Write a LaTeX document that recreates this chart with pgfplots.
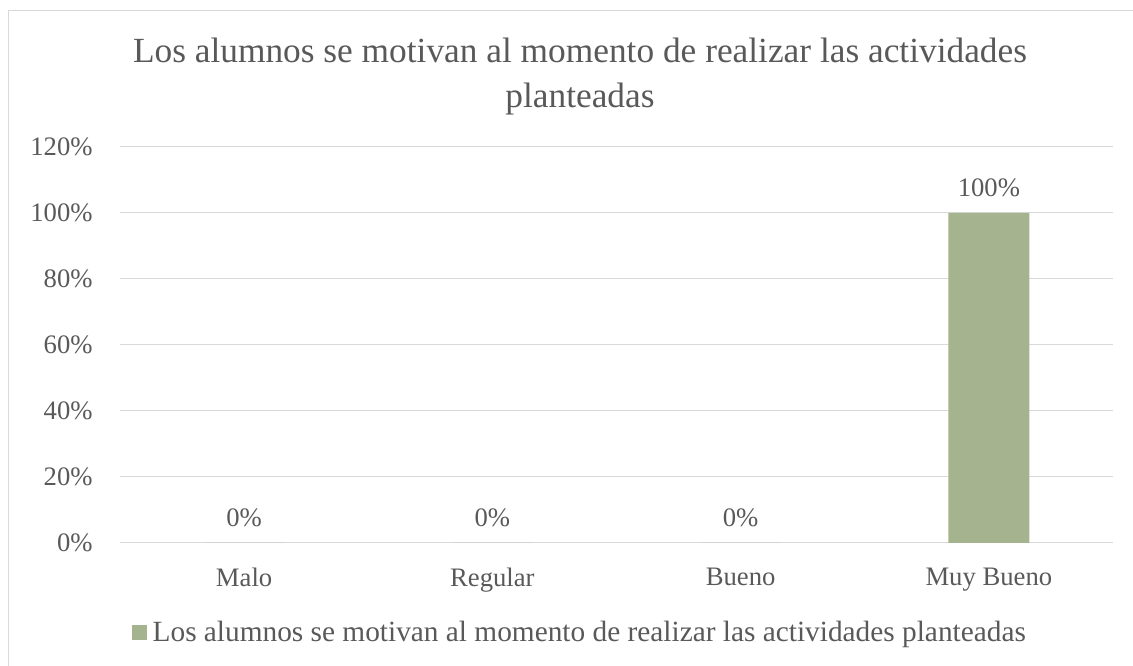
\documentclass[border=0pt]{standalone}
\usepackage{fontspec}
\setmainfont{Liberation Serif}
\usepackage{pgfplots}
\pgfplotsset{compat=1.18}

\definecolor{bargreen}{HTML}{A5B38F}
\definecolor{txtgray}{HTML}{595959}
\definecolor{gridgray}{HTML}{D9D9D9}

\begin{document}
\begin{tikzpicture}
% page frame: 1133 x 666 px at 0.75pt per px
\useasboundingbox (0,0) rectangle (849.75pt,499.5pt);
\draw[gridgray, line width=0.75pt] (6pt,0) -- (6pt,491.25pt) -- (849.75pt,491.25pt);

\node[anchor=base, text=txtgray, font=\fontsize{26.5}{33.75}\selectfont] at (435pt,452.25pt)
  {Los alumnos se motivan al momento de realizar las actividades};
\node[anchor=base, text=txtgray, font=\fontsize{26.5}{33.75}\selectfont] at (435pt,418.5pt)
  {planteadas};

\begin{axis}[
  at={(90pt,92.25pt)}, anchor=south west,
  scale only axis,
  width=744.75pt, height=297pt,
  xmin=-0.5, xmax=3.5,
  ymin=0, ymax=120,
  xtick=data,
  xticklabels={Malo, Regular, Bueno, Muy Bueno},
  ytick={0,20,...,120},
  yticklabel={\pgfmathprintnumber{\tick}\%},
  /pgf/number format/assume math mode=true,
  ymajorgrids,
  grid style={gridgray, line width=0.75pt},
  axis line style={draw=none},
  tick style={draw=none},
  ticklabel style={text=txtgray, font=\fontsize{20}{24}\selectfont},
  yticklabel style={xshift=-17pt},
  xticklabel style={yshift=-11pt},
  ybar, bar width=60.75pt,
  nodes near coords={\pgfmathprintnumber{\pgfplotspointmeta}\%},
  every node near coord/.append style={text=txtgray, font=\fontsize{20}{24}\selectfont, anchor=center, yshift=18.75pt},
  legend style={draw=none, fill=none, at={(rel axis cs:0.462,-0.225)}, anchor=center,
    font=\fontsize{22}{26}\selectfont, text=txtgray, inner sep=0pt,
    nodes={inner sep=0pt},
    /tikz/every odd column/.append style={column sep=4.5pt}},
  legend image code/.code={\fill[bargreen] (0pt,-5.6pt) rectangle (11.25pt,5.6pt);},
  legend cell align=left,
]
\addplot[fill=bargreen, draw=none] coordinates {(0,0) (1,0) (2,0) (3,100)};
\addlegendentry{Los alumnos se motivan al momento de realizar las actividades planteadas}
\end{axis}
\end{tikzpicture}
\end{document}
